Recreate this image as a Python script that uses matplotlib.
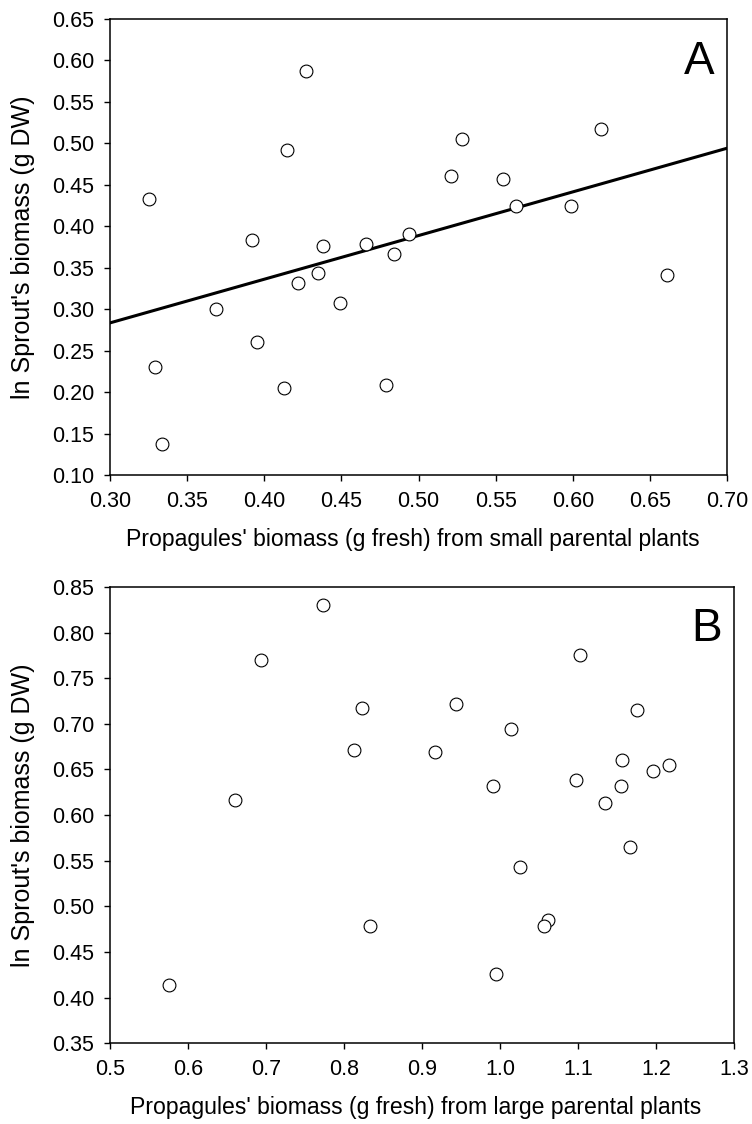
import numpy as np
import matplotlib
matplotlib.use('Agg')
import matplotlib.pyplot as plt
from matplotlib.ticker import FormatStrFormatter

plt.rcParams['font.family'] = ['Liberation Sans', 'DejaVu Sans']

# Panel A - small parental plants
xa = [0.325, 0.427, 0.415, 0.392, 0.438, 0.466, 0.435, 0.422, 0.449, 0.369,
      0.395, 0.329, 0.413, 0.334, 0.528, 0.618, 0.521, 0.555, 0.563, 0.599,
      0.494, 0.484, 0.661, 0.479]
ya = [0.433, 0.587, 0.492, 0.384, 0.376, 0.379, 0.344, 0.332, 0.308, 0.300,
      0.261, 0.230, 0.205, 0.137, 0.505, 0.517, 0.461, 0.457, 0.424, 0.424,
      0.391, 0.367, 0.341, 0.208]

# Panel B - large parental plants
xb = [0.773, 0.693, 0.823, 0.813, 0.660, 1.103, 0.943, 1.176, 1.014, 0.916,
      1.157, 1.216, 1.196, 1.097, 0.991, 1.155, 1.135, 1.167, 1.026, 1.062,
      1.057, 0.995, 0.575, 0.833]
yb = [0.830, 0.770, 0.717, 0.671, 0.617, 0.775, 0.722, 0.715, 0.694, 0.669,
      0.660, 0.655, 0.648, 0.638, 0.632, 0.632, 0.613, 0.565, 0.543, 0.485,
      0.479, 0.426, 0.414, 0.479]

ylab = "ln Sprout's biomass (g DW)"

fig = plt.figure(figsize=(7.52, 11.24), dpi=100)
axA = fig.add_axes([0.1463, 0.5774, 0.8205, 0.4057])
axB = fig.add_axes([0.1463, 0.0718, 0.8298, 0.4060])

def style(ax, wpx):
    for s in ax.spines.values():
        s.set_linewidth(1.1)
    ax.tick_params(direction='out', length=4.3, width=1.0, labelsize=15.5,
                   pad=7, top=False, right=False)
    ax.xaxis.label.set_fontsize(16.6)
    ax.yaxis.label.set_fontsize(18)
    ax.xaxis.set_label_coords(0.49, -0.116)
    ax.yaxis.set_label_coords(-75.0/wpx, 0.5)

# A
axA.scatter(xa, ya, s=85, facecolors='white', edgecolors='black',
            linewidths=0.8, zorder=3)
slope, icpt = np.polyfit(xa, ya, 1)
xl = np.array([0.30, 0.70])
axA.plot(xl, icpt + slope*xl, color='black', lw=2.2, zorder=2)
axA.set_xlim(0.30, 0.70)
axA.set_ylim(0.10, 0.65)
axA.set_xticks(np.arange(0.30, 0.701, 0.05))
axA.set_yticks(np.arange(0.10, 0.651, 0.05))
axA.xaxis.set_major_formatter(FormatStrFormatter('%.2f'))
axA.yaxis.set_major_formatter(FormatStrFormatter('%.2f'))
axA.set_xlabel("Propagules' biomass (g fresh) from small parental plants")
axA.set_ylabel(ylab)
axA.text(0.98, 0.955, 'A', transform=axA.transAxes, ha='right', va='top',
         fontsize=33)
style(axA, 617.0)

# B
axB.scatter(xb, yb, s=85, facecolors='white', edgecolors='black',
            linewidths=0.8, zorder=3)
axB.set_xlim(0.5, 1.3)
axB.set_ylim(0.35, 0.85)
axB.set_xticks(np.arange(0.5, 1.301, 0.1))
axB.set_yticks(np.arange(0.35, 0.851, 0.05))
axB.xaxis.set_major_formatter(FormatStrFormatter('%.1f'))
axB.yaxis.set_major_formatter(FormatStrFormatter('%.2f'))
axB.set_xlabel("Propagules' biomass (g fresh) from large parental plants")
axB.set_ylabel(ylab)
axB.text(0.98, 0.955, 'B', transform=axB.transAxes, ha='right', va='top',
         fontsize=33)
style(axB, 624.0)

fig.savefig('out.png', dpi=100)
